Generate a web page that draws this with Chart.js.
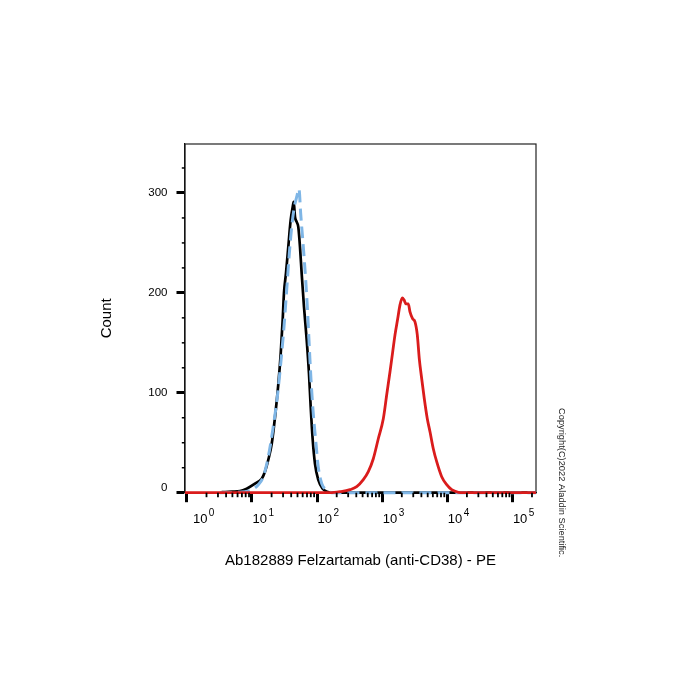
<!DOCTYPE html>
<html><head><meta charset="utf-8">
<script src="https://cdn.jsdelivr.net/npm/chart.js@4"></script>
<style>html,body{margin:0;padding:0;background:#fff}#wrap{width:700px;height:700px;position:relative}</style>
</head><body><div id="wrap"><canvas id="c"></canvas></div>
<script>
const FONT = '"Liberation Sans", Arial, sans-serif';
const xAxisTitle = 'Ab182889 Felzartamab (anti-CD38) - PE';
const yAxisTitle = 'Count';
const copyright = 'Copyright(C)2022 Aladdin Scientific.';
const xDecades = [1, 10, 100, 1000, 10000, 100000];
const xDecadeExponents = ['0', '1', '2', '3', '4', '5'];
const yTicks = [0, 100, 200, 300];
const yMinorTicks = [25, 50, 75, 125, 150, 175, 225, 250, 275, 325];

const blackX = [3.42, 4.93, 6.54, 8.29, 11.1, 14.1, 15.8, 17.8, 20.1, 22.6, 25.4, 27.6, 29.6, 31.0, 33.3, 36.1, 39.3, 42.2, 43.7, 45.8, 48.6, 51.4, 54.6, 58.0, 62.9, 69.2, 75.1, 79.7, 85.6, 92.8, 104, 122, 143, 168, 230000];
const blackY = [0.5, 1, 1.5, 4, 9, 14, 21, 33, 49, 76, 109, 139, 173, 200, 220, 246, 273, 286, 291, 276, 271, 266, 246, 219, 186, 153, 119, 86, 53, 29, 13, 4, 1, 0, 0];

const blueX = [3.22, 7.81, 10.0, 12.5, 14.9, 17.8, 21.2, 24.5, 27.6, 31.0, 34.1, 37.4, 40.7, 44.7, 48.6, 52.7, 56.0, 61.4, 66.8, 71.7, 75.9, 80.6, 87.4, 96.2, 104, 118, 140, 168, 230000];
const blueY = [0, 1, 3, 8, 16, 36, 66, 96, 129, 166, 203, 239, 266, 286, 296, 304, 279, 246, 213, 179, 146, 113, 79, 49, 26, 9, 3, 0, 0];

const redX = [0.935, 158, 225, 320, 406, 513, 612, 730, 871, 1040, 1173, 1318, 1450, 1573, 1730, 1877, 2036, 2162, 2321, 2517, 2673, 2941, 3190, 3461, 3715, 4045, 4434, 4930, 5424, 6094, 6874, 8204, 9790, 11680, 14760, 17610, 230000];
const redY = [0, 0, 1, 3, 6, 13, 21, 34, 54, 74, 98, 121, 141, 158, 174, 188, 195, 193, 189, 189, 181, 174, 171, 158, 134, 114, 94, 74, 61, 44, 31, 16, 8, 3, 0.4, 0, 0];

const pts = (xs, ys) => xs.map((v, i) => ({x: v, y: ys[i]}));

const decor = {
  id: 'decor',
  beforeDatasetsDraw(chart) {
    const {ctx, chartArea: a} = chart;
    ctx.save();
    ctx.strokeStyle = '#222';
    ctx.lineWidth = 1.2;
    ctx.strokeRect(a.left, a.top, a.right - a.left, a.bottom - a.top);
    ctx.restore();
  },
  afterDraw(chart) {
    const {ctx, chartArea: a, scales: {x, y}} = chart;
    ctx.save();
    ctx.strokeStyle = '#000';
    ctx.lineWidth = 1.8;
    for (let e = 0; e <= 5; e++) {
      for (let m = 2; m <= 9; m++) {
        const v = m * Math.pow(10, e);
        if (v > x.max) continue;
        const px = x.getPixelForValue(v);
        ctx.beginPath(); ctx.moveTo(px, a.bottom); ctx.lineTo(px, a.bottom + 4.5); ctx.stroke();
      }
    }
    ctx.lineWidth = 1.5;
    yMinorTicks.forEach(v => {
      const py = y.getPixelForValue(v);
      ctx.beginPath(); ctx.moveTo(a.left - 3.2, py); ctx.lineTo(a.left, py); ctx.stroke();
    });
    ctx.fillStyle = '#000';
    ctx.textAlign = 'left';
    ctx.textBaseline = 'alphabetic';
    xDecades.forEach((v, i) => {
      const px = x.getPixelForValue(v) + (i === 0 ? 6 : 0.5);
      ctx.font = '13px ' + FONT;
      ctx.fillText('10', px, a.bottom + 30.3);
      const w = ctx.measureText('10').width;
      ctx.font = '10px ' + FONT;
      ctx.fillText(xDecadeExponents[i], px + w + 1.5, a.bottom + 23);
    });
    ctx.translate(561.8, 408);
    ctx.rotate(Math.PI / 2);
    ctx.font = '9.3px ' + FONT;
    ctx.textBaseline = 'middle';
    ctx.fillStyle = '#222';
    ctx.fillText(copyright, 0, 0);
    ctx.restore();
  }
};

new Chart(document.getElementById('c'), {
  type: 'line',
  data: {
    datasets: [
      {label: 'Felzartamab', data: pts(redX, redY), borderColor: '#da1c1c', borderWidth: 2.8, pointRadius: 0, cubicInterpolationMode: 'monotone', fill: false, clip: 6},
      {label: 'Control', data: pts(blueX, blueY), borderColor: '#7fb6e6', borderWidth: 3, borderDash: [12, 6], pointRadius: 0, cubicInterpolationMode: 'monotone', fill: false, clip: 6},
      {label: 'Blank', data: pts(blackX, blackY), borderColor: '#000000', borderWidth: 2.7, pointRadius: 0, cubicInterpolationMode: 'monotone', fill: false, clip: 6}
    ]
  },
  options: {
    responsive: true,
    maintainAspectRatio: false,
    animation: false,
    layout: {padding: {left: 0, top: 144, right: 164, bottom: 130.3}},
    plugins: {legend: {display: false}, tooltip: {enabled: false}},
    scales: {
      x: {
        type: 'logarithmic', min: 0.935, max: 230500, position: 'bottom',
        afterBuildTicks: s => { s.ticks = xDecades.map(v => ({value: v, major: true})); },
        afterFit: s => { s.height = 77; },
        ticks: {display: false},
        grid: {drawOnChartArea: false, drawTicks: true, tickLength: 9.5, tickWidth: 3, tickColor: '#000'},
        border: {display: true, color: '#000', width: 1.2},
        title: {display: true, text: xAxisTitle, color: '#000', font: {family: FONT, size: 15}, padding: {top: 0, bottom: 0}}
      },
      y: {
        type: 'linear', min: 0, max: 349,
        afterBuildTicks: s => { s.ticks = yTicks.map(v => ({value: v})); },
        afterFit: s => { s.width = 185; },
        ticks: {color: '#000', font: {family: FONT, size: 11.5, lineHeight: 0.77}, padding: 9,
                callback: v => (v === 0 ? ['0', ''] : String(v))},
        grid: {drawOnChartArea: false, drawTicks: true, tickLength: 8.5, tickWidth: 3, tickColor: '#000'},
        border: {display: true, color: '#000', width: 1.2},
        title: {display: true, text: yAxisTitle, color: '#000', font: {family: FONT, size: 15}, padding: {top: 97.4, bottom: 0}}
      }
    }
  },
  plugins: [decor]
});
</script>
</body></html>
